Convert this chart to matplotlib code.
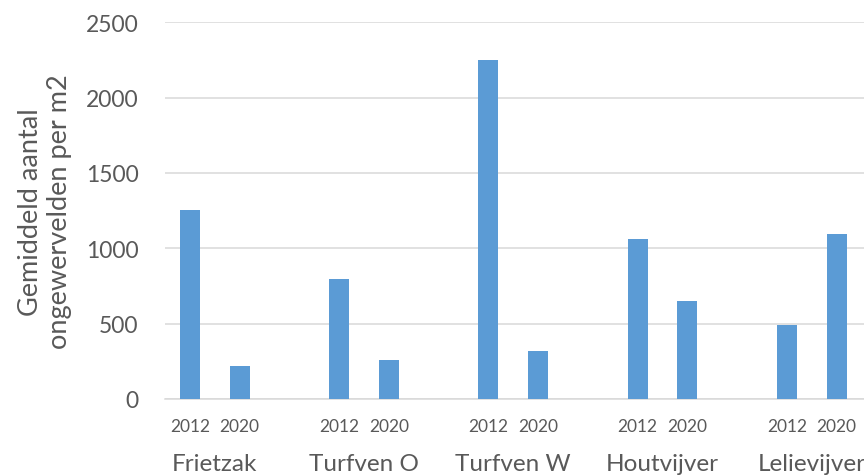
import matplotlib
matplotlib.use("Agg")
import matplotlib.pyplot as plt
import numpy as np

# Average number of invertebrates per m2, per pond and sampling year
sites = ["Frietzak", "Turfven O", "Turfven W", "Houtvijver", "Lelievijver"]
years = ["2012", "2020"]
values_2012 = [1256, 796, 2248, 1062, 493]
values_2020 = [219, 259, 316, 650, 1095]

y_ticks = [0, 500, 1000, 1500, 2000, 2500]
y_label = "Gemiddeld aantal\nongewervelden per m2"

bar_color = "#5B9BD5"
text_color = "#595959"
grid_color = "#D9D9D9"

plt.rcParams["font.family"] = ["Lato", "DejaVu Sans"]

fig = plt.figure(figsize=(8.64, 4.77), dpi=100)
ax = fig.add_axes([165 / 864, 77 / 477, (864 - 165) / 864, 376.7 / 477])

# each site occupies three slots: 2012, 2020 and an empty spacer
group = np.arange(len(sites)) * 3
x2012 = group + 0
x2020 = group + 1
bar_w = 0.40

ax.bar(x2012, values_2012, width=bar_w, color=bar_color, zorder=3)
ax.bar(x2020, values_2020, width=bar_w, color=bar_color, zorder=3)

ax.set_ylim(0, 2500)
ax.set_xlim(-0.5, 13.55)
ax.set_yticks(y_ticks)
ax.set_yticklabels([str(v) for v in y_ticks], fontsize=16.5, color=text_color)
ax.yaxis.grid(True, color=grid_color, linewidth=1.1, zorder=0)
ax.set_axisbelow(True)

xt = np.concatenate([x2012, x2020])
xl = [years[0]] * len(sites) + [years[1]] * len(sites)
ax.set_xticks(xt)
ax.set_xticklabels(xl, fontsize=12.5, color=text_color)

ax.tick_params(axis="y", length=0, pad=19)
ax.tick_params(axis="x", length=0, pad=14)

for s in ["left", "right", "top"]:
    ax.spines[s].set_visible(False)
ax.spines["bottom"].set_color(grid_color)
ax.spines["bottom"].set_linewidth(1.1)

# site names centred below each pair of bars
for i, name in enumerate(sites):
    ax.text((x2012[i] + x2020[i]) / 2, -0.172, name,
            transform=ax.get_xaxis_transform(),
            ha="center", va="center", fontsize=17.5, color=text_color)

ax.set_ylabel(y_label, fontsize=19.5, color=text_color, linespacing=1.2)
ax.yaxis.set_label_coords(-0.133, 0.5)

fig.savefig("out.png", dpi=100)
